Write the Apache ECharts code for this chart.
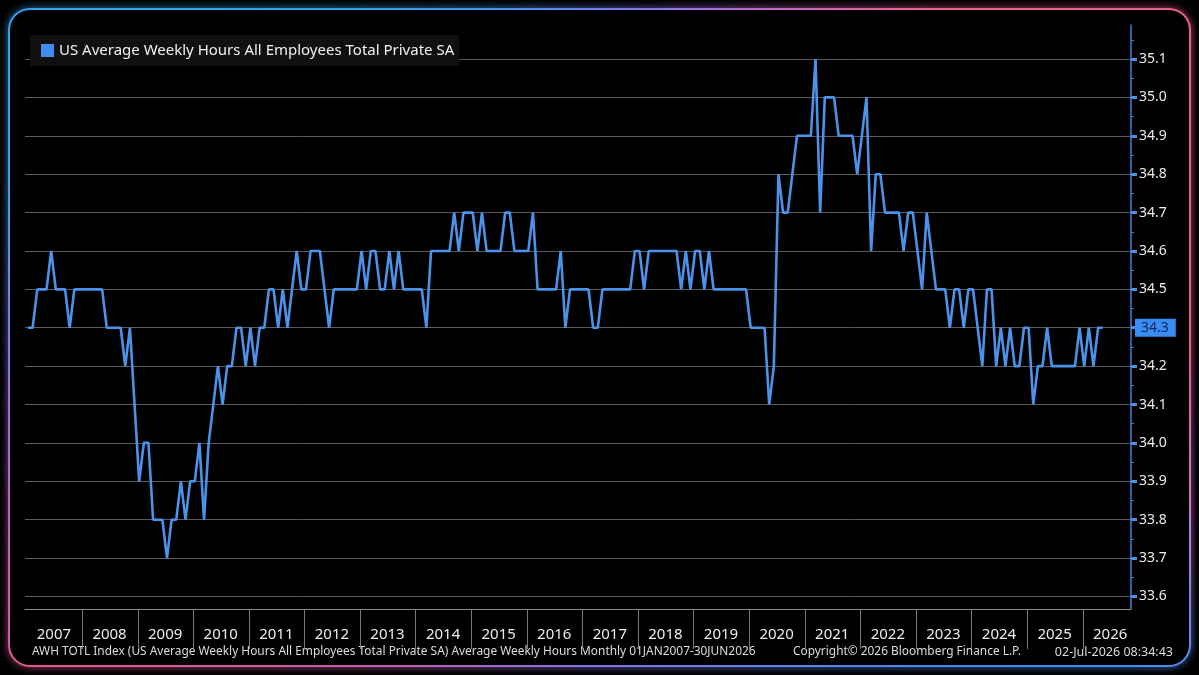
<!DOCTYPE html>
<html>
<head>
<meta charset="utf-8">
<title>US Average Weekly Hours</title>
<script src="https://cdn.jsdelivr.net/npm/echarts@6/dist/echarts.min.js"></script>
<style>
  html, body { margin: 0; padding: 0; background: #000; width: 1199px; height: 675px; overflow: hidden; }
  /* gradient frame round the chart */
  .glow, .frame {
    position: absolute; left: 8px; top: 8px; width: 1183px; height: 659px;
    border-radius: 22px;
    background: conic-gradient(from 0deg at 50% 50%, #6c7ff0 0deg, #a56ee0 18deg, #ee5f96 45deg, #ea5c94 90deg,
      #c275d8 108deg, #3d8ff0 122deg, #5a84ee 150deg, #8a6fe0 185deg, #c45bb0 215deg, #e2578e 240deg,
      #a46ad6 262deg, #3aa0f0 285deg, #2ea4ee 320deg, #4a94f0 345deg, #6c7ff0 360deg);
  }
  .glow { filter: blur(4px); opacity: 0.7; }
  .inner { position: absolute; left: 2px; top: 2px; right: 2px; bottom: 2px; border-radius: 20px; background: #000; }
  #chart { position: absolute; left: 0; top: 0; width: 1199px; height: 675px; }
</style>
</head>
<body>
<div class="glow"></div>
<div class="frame"><div class="inner"></div></div>
<div id="chart"></div>
<script>
// x labels, one per year
const years = ['2007', '2008', '2009', '2010', '2011', '2012', '2013', '2014', '2015', '2016',
  '2017', '2018', '2019', '2020', '2021', '2022', '2023', '2024', '2025', '2026']

// monthly values from Jan 2007, one row per year
const hours = [
  34.3, 34.3, 34.4, 34.4, 34.4, 34.5, 34.4, 34.4, 34.4, 34.3, 34.4, 34.4, // 2007
  34.4, 34.4, 34.4, 34.4, 34.4, 34.3, 34.3, 34.3, 34.3, 34.2, 34.3, 34.1, // 2008
  33.9, 34.0, 34.0, 33.8, 33.8, 33.8, 33.7, 33.8, 33.8, 33.9, 33.8, 33.9, // 2009
  33.9, 34.0, 33.8, 34.0, 34.1, 34.2, 34.1, 34.2, 34.2, 34.3, 34.3, 34.2, // 2010
  34.3, 34.2, 34.3, 34.3, 34.4, 34.4, 34.3, 34.4, 34.3, 34.4, 34.5, 34.4, // 2011
  34.4, 34.5, 34.5, 34.5, 34.4, 34.3, 34.4, 34.4, 34.4, 34.4, 34.4, 34.4, // 2012
  34.5, 34.4, 34.5, 34.5, 34.4, 34.4, 34.5, 34.4, 34.5, 34.4, 34.4, 34.4, // 2013
  34.4, 34.4, 34.3, 34.5, 34.5, 34.5, 34.5, 34.5, 34.6, 34.5, 34.6, 34.6, // 2014
  34.6, 34.5, 34.6, 34.5, 34.5, 34.5, 34.5, 34.6, 34.6, 34.5, 34.5, 34.5, // 2015
  34.5, 34.6, 34.4, 34.4, 34.4, 34.4, 34.4, 34.5, 34.3, 34.4, 34.4, 34.4, // 2016
  34.4, 34.4, 34.3, 34.3, 34.4, 34.4, 34.4, 34.4, 34.4, 34.4, 34.4, 34.5, // 2017
  34.5, 34.4, 34.5, 34.5, 34.5, 34.5, 34.5, 34.5, 34.5, 34.4, 34.5, 34.4, // 2018
  34.5, 34.5, 34.4, 34.5, 34.4, 34.4, 34.4, 34.4, 34.4, 34.4, 34.4, 34.4, // 2019
  34.3, 34.3, 34.3, 34.3, 34.1, 34.2, 34.7, 34.6, 34.6, 34.7, 34.8, 34.8, // 2020
  34.8, 34.8, 35.0, 34.6, 34.9, 34.9, 34.9, 34.8, 34.8, 34.8, 34.8, 34.7, // 2021
  34.8, 34.9, 34.5, 34.7, 34.7, 34.6, 34.6, 34.6, 34.6, 34.5, 34.6, 34.6, // 2022
  34.5, 34.4, 34.6, 34.5, 34.4, 34.4, 34.4, 34.3, 34.4, 34.4, 34.3, 34.4, // 2023
  34.4, 34.3, 34.2, 34.4, 34.4, 34.2, 34.3, 34.2, 34.3, 34.2, 34.2, 34.3, // 2024
  34.3, 34.1, 34.2, 34.2, 34.3, 34.2, 34.2, 34.2, 34.2, 34.2, 34.2, 34.3, // 2025
  34.2, 34.3, 34.2, 34.3, 34.3                                            // 2026
]

// y gridlines and the labels printed beside them
// (the source prints the labels above the last-value tag one tenth higher)
const yTicks = [33.6, 33.7, 33.8, 33.9, 34.0, 34.1, 34.2, 34.3, 34.4, 34.5, 34.6, 34.7, 34.8, 34.9, 35.0]
const yTickLabels = ['33.6', '33.7', '33.8', '33.9', '34.0', '34.1', '34.2', '', '34.5', '34.6', '34.7', '34.8', '34.9', '35.0', '35.1']

const seriesName = 'US Average Weekly Hours All Employees Total Private SA'
const footerLeft = 'AWH TOTL Index (US Average Weekly Hours All Employees Total Private SA) Average Weekly Hours Monthly 01JAN2007-30JUN2026'
const footerMid = 'Copyright\u00a9 2026 Bloomberg Finance L.P.'
const footerRight = '02-Jul-2026 08:34:43'

const FONT = '"Noto Sans", "DejaVu Sans", sans-serif'
const lastValue = hours[hours.length - 1]

// year separators sit at each January, year names in the middle of the year
const yearSeps = years.slice(1).map((y, i) => (i + 1) * 12 - 0.3)
const yearMids = years.map((y, i) => i * 12 + 5.6)
const yMinor = yTicks.map(v => +(v + 0.05).toFixed(2))

var myChart = echarts.init(document.getElementById('chart'))
myChart.setOption({
  backgroundColor: 'transparent',
  animation: false,
  textStyle: { fontFamily: FONT },
  grid: { left: 25, right: 68, top: 25, bottom: 66 },
  legend: {
    left: 30,
    top: 35,
    padding: [8, 5, 8, 11],
    backgroundColor: '#101010',
    icon: 'rect',
    itemWidth: 13,
    itemHeight: 13,
    itemGap: 5,
    textStyle: { color: '#f0f0f0', fontSize: 15, fontFamily: FONT },
    data: [seriesName]
  },
  xAxis: {
    type: 'value',
    min: -0.65,
    max: 238.1,
    axisLine: { show: true, onZero: false, lineStyle: { color: '#8c8c8c', width: 1 } },
    axisTick: { show: true, customValues: yearSeps, length: 40, lineStyle: { color: '#7a7a7a' } },
    axisLabel: {
      customValues: yearMids,
      margin: 18,
      color: '#ececec',
      fontSize: 15,
      fontFamily: FONT,
      formatter: function(v) {
        return years[Math.round((v - 5.6) / 12)]
      }
    },
    splitLine: { show: false }
  },
  yAxis: [
    {
      type: 'value',
      position: 'right',
      min: 33.5674,
      max: 35.0886,
      axisLine: { show: true, onZero: false, lineStyle: { color: '#3f7fd4', width: 1.5 } },
      axisTick: { show: true, customValues: yTicks, length: 6, lineStyle: { color: '#4a8fe6', width: 3 } },
      axisLabel: {
        customValues: yTicks,
        margin: 8,
        color: '#ececec',
        fontSize: 14,
        fontFamily: FONT,
        formatter: function(v) {
          const i = yTicks.findIndex(t => Math.abs(t - v) < 1e-6)
          return i < 0 ? '' : yTickLabels[i]
        }
      },
      splitLine: { show: true, lineStyle: { color: '#5c5c5c', width: 1 } }
    },
    {
      // short minor ticks between the labels
      type: 'value',
      position: 'right',
      min: 33.5674,
      max: 35.0886,
      axisLine: { show: false, onZero: false },
      axisTick: { show: true, customValues: yMinor, length: 3, lineStyle: { color: '#4a7fc0', width: 1 } },
      axisLabel: { show: false },
      splitLine: { show: false }
    }
  ],
  series: [
    {
      name: seriesName,
      type: 'line',
      yAxisIndex: 0,
      data: hours.map((v, i) => [i, v]),
      showSymbol: false,
      symbol: 'none',
      color: '#3d8ef0',
      lineStyle: { color: '#4b93ea', width: 2.6 },
      markLine: {
        silent: true,
        symbol: 'none',
        lineStyle: { color: 'transparent', width: 1 },
        label: {
          show: true,
          position: 'end',
          distance: 4,
          formatter: lastValue.toFixed(1),
          backgroundColor: '#3a8cf0',
          color: '#0c2a66',
          fontSize: 14,
          fontFamily: FONT,
          padding: [2, 7, 2, 6]
        },
        data: [{ yAxis: lastValue }]
      }
    }
  ],
  graphic: [
    { type: 'text', style: { x: 32, y: 652, text: footerLeft, fill: '#dcdcdc', font: '11.9px ' + FONT, textVerticalAlign: 'middle' } },
    { type: 'text', style: { x: 793, y: 652, text: footerMid, fill: '#dcdcdc', font: '11.9px ' + FONT, textVerticalAlign: 'middle' } },
    { type: 'text', style: { x: 1173, y: 652, text: footerRight, fill: '#dcdcdc', font: '12.5px ' + FONT, textAlign: 'right', textVerticalAlign: 'middle' } }
  ]
})
</script>
</body>
</html>
